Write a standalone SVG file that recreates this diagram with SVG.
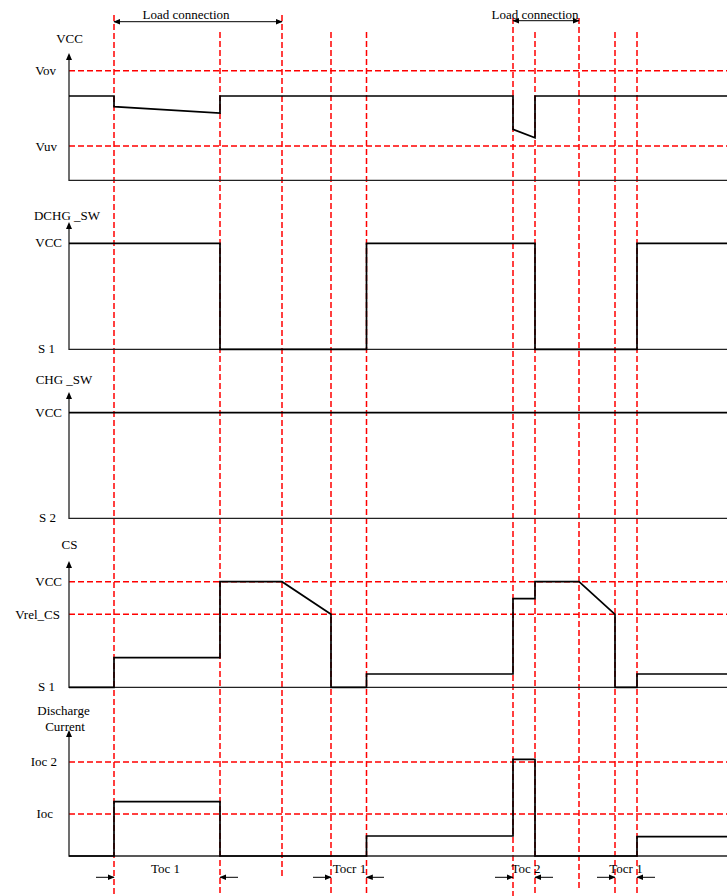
<svg xmlns="http://www.w3.org/2000/svg" width="727" height="896" viewBox="0 0 727 896">
<defs>
<style>
.t{font-family:"Liberation Serif","Times New Roman",serif;font-size:13px;fill:#000}
.r{stroke:#ff0000;stroke-width:1.5;stroke-dasharray:6,3;fill:none}
.ax{stroke:#222;stroke-width:1.3;fill:none}
.sig{stroke:#000;stroke-width:1.7;fill:none;stroke-linejoin:miter}
.ar{stroke:#000;stroke-width:1;fill:none}
</style>
<marker id="ah" viewBox="0 0 10 10" refX="9" refY="5" markerWidth="7" markerHeight="7" orient="auto-start-reverse" markerUnits="userSpaceOnUse">
<path d="M0,1 L10,5 L0,9 z" fill="#000"/>
</marker>
</defs>
<rect width="727" height="896" fill="#fff"/>

<g id="red-guides">
<line class="r" x1="114" y1="15" x2="114" y2="896"/>
<line class="r" x1="220" y1="32" x2="220" y2="896"/>
<line class="r" x1="282" y1="15" x2="282" y2="878"/>
<line class="r" x1="331" y1="32" x2="331" y2="896"/>
<line class="r" x1="366.5" y1="32" x2="366.5" y2="896"/>
<line class="r" x1="513" y1="18" x2="513" y2="896"/>
<line class="r" x1="535" y1="32" x2="535" y2="896"/>
<line class="r" x1="579" y1="18" x2="579" y2="889"/>
<line class="r" x1="615" y1="32" x2="615" y2="896"/>
<line class="r" x1="637" y1="32" x2="637" y2="896"/>
<line class="r" x1="69" y1="70.7" x2="727" y2="70.7"/>
<line class="r" x1="69" y1="146" x2="727" y2="146"/>
<line class="r" x1="69" y1="581.7" x2="727" y2="581.7"/>
<line class="r" x1="69" y1="614.3" x2="727" y2="614.3"/>
<line class="r" x1="69" y1="762" x2="727" y2="762"/>
<line class="r" x1="69" y1="814" x2="727" y2="814"/>
</g>

<g id="panel-vcc">
<path class="ax" d="M69,58 V180.3 H727" />
<path d="M69,53 L66,60 L72,60 z" fill="#000"/>
<text class="t" x="69.5" y="43" text-anchor="middle">VCC</text>
<text class="t" x="56" y="75" text-anchor="end">Vov</text>
<text class="t" x="57" y="150.7" text-anchor="end">Vuv</text>
<path class="sig" d="M69,96 H114 V106.7 L220,113 V96 H513 V129.3 L535,137.7 V96 H727"/>
</g>

<g id="load-1">
<line class="ar" x1="114" y1="21.7" x2="282" y2="21.7" marker-start="url(#ah)" marker-end="url(#ah)"/>
<text class="t" x="186" y="19" text-anchor="middle">Load connection</text>
</g>
<g id="load-2">
<line class="ar" x1="513" y1="20.7" x2="579" y2="20.7" marker-start="url(#ah)" marker-end="url(#ah)"/>
<text class="t" x="535" y="19" text-anchor="middle">Load connection</text>
</g>

<g id="panel-dchg">
<path class="ax" d="M69,227 V349.3 H727"/>
<path d="M69,222 L66,229 L72,229 z" fill="#000"/>
<text class="t" x="67" y="220" text-anchor="middle">DCHG _SW</text>
<text class="t" x="62" y="247.3" text-anchor="end">VCC</text>
<text class="t" x="55" y="353" text-anchor="end">S 1</text>
<path class="sig" d="M69,243.3 H220 V349.3 H366.5 V243.3 H535 V349.3 H637 V243.3 H727"/>
</g>

<g id="panel-chg">
<path class="ax" d="M69,397 V518.3 H727"/>
<path d="M69,392 L66,399 L72,399 z" fill="#000"/>
<text class="t" x="64" y="384" text-anchor="middle">CHG _SW</text>
<text class="t" x="62" y="416.7" text-anchor="end">VCC</text>
<text class="t" x="56" y="522" text-anchor="end">S 2</text>
<path class="sig" d="M69,412.7 H727"/>
</g>

<g id="panel-cs">
<path class="ax" d="M69,566 V687.3 H727"/>
<path d="M69,561 L66,568 L72,568 z" fill="#000"/>
<text class="t" x="69.5" y="549" text-anchor="middle">CS</text>
<text class="t" x="62" y="585.5" text-anchor="end">VCC</text>
<text class="t" x="60" y="618.5" text-anchor="end">Vrel_CS</text>
<text class="t" x="55" y="691" text-anchor="end">S 1</text>
<path class="sig" d="M69,687.3 H114 V657.7 H220 V581.7 H282 L331,614.3 V687.3 H366.5 V674 H513 V598.7 H535 V581.7 H579 L615,614.3 V687.3 H637 V674 H727"/>
</g>

<g id="panel-current">
<path class="ax" d="M69,735 V856 H727"/>
<path d="M69,730 L66,737 L72,737 z" fill="#000"/>
<text class="t" x="63.5" y="715" text-anchor="middle">Discharge</text>
<text class="t" x="65" y="731" text-anchor="middle">Current</text>
<text class="t" x="57" y="766" text-anchor="end">Ioc 2</text>
<text class="t" x="53" y="818" text-anchor="end">Ioc</text>
<path class="sig" d="M69,856 H114 V801.7 H220 V856 H366.5 V836 H513 V759.3 H535 V856 H637 V836.7 H727"/>
</g>

<g id="timing-labels">
<text class="t" x="165.5" y="872.7" text-anchor="middle">Toc 1</text>
<text class="t" x="349.5" y="872.7" text-anchor="middle">Tocr 1</text>
<text class="t" x="526" y="872.7" text-anchor="middle">Toc 2</text>
<text class="t" x="626" y="872.7" text-anchor="middle">Tocr 1</text>
</g>

<g id="connectors">
<line class="ar" x1="96" y1="877.3" x2="114" y2="877.3" marker-end="url(#ah)"/>
<line class="ar" x1="238" y1="877.3" x2="220" y2="877.3" marker-end="url(#ah)"/>
<line class="ar" x1="313" y1="877.3" x2="331" y2="877.3" marker-end="url(#ah)"/>
<line class="ar" x1="384" y1="877.3" x2="366.5" y2="877.3" marker-end="url(#ah)"/>
<line class="ar" x1="495" y1="877.3" x2="513" y2="877.3" marker-end="url(#ah)"/>
<line class="ar" x1="553" y1="877.3" x2="535" y2="877.3" marker-end="url(#ah)"/>
<line class="ar" x1="597" y1="877.3" x2="615" y2="877.3" marker-end="url(#ah)"/>
<line class="ar" x1="655" y1="877.3" x2="637" y2="877.3" marker-end="url(#ah)"/>
</g>
</svg>
